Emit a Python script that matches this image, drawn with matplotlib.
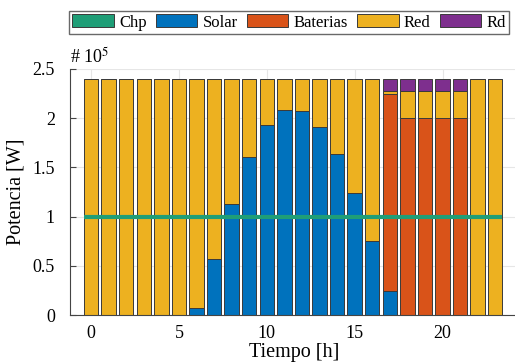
import matplotlib.pyplot as plt
from matplotlib.patches import Patch

plt.rcParams['font.family'] = ['Liberation Serif', 'DejaVu Serif']
plt.rcParams['mathtext.fontset'] = 'stix'

# Hourly power mix [W]
hours = list(range(24))
chp = [100000] * 24
solar = [0, 0, 0, 0, 0, 0, 7500, 57000, 113000, 161000, 193000, 208500,
         207500, 191500, 163500, 123500, 75500, 24500, 0, 0, 0, 0, 0, 0]
baterias = [0, 0, 0, 0, 0, 0, 0, 0, 0, 0, 0, 0,
            0, 0, 0, 0, 0, 200000, 200000, 200000, 200000, 200000, 0, 0]
red = [240000, 240000, 240000, 240000, 240000, 240000, 232500, 183000,
       127000, 79000, 47000, 31500, 32500, 48500, 76500, 116500, 164500,
       3500, 28000, 28000, 28000, 28000, 240000, 240000]
rd = [0, 0, 0, 0, 0, 0, 0, 0, 0, 0, 0, 0,
      0, 0, 0, 0, 0, 12000, 12000, 12000, 12000, 12000, 0, 0]

labels = ['Chp', 'Solar', 'Baterias', 'Red', 'Rd']
colors = ['#1f9e77', '#0072bd', '#d95319', '#edb120', '#7e2f8e']

fig = plt.figure(figsize=(5.15, 3.64), dpi=100)
ax = fig.add_axes([0.136, 0.1346, 0.87, 0.676])

w = 0.82
bottom = [0] * 24
for vals, c in zip([solar, baterias, red, rd], colors[1:]):
    ax.bar(hours, vals, width=w, bottom=bottom, color=c,
           edgecolor='#3a3a3a', linewidth=0.7, zorder=2)
    bottom = [b + v for b, v in zip(bottom, vals)]

# CHP base load drawn as a line across the bars
ax.hlines(chp[0], hours[0] - w / 2, hours[-1] + w / 2, color=colors[0],
          linewidth=3, zorder=3)

ax.set_xlim(-1.2, 24.3)
ax.set_ylim(0, 250000)
ax.set_xticks([0, 5, 10, 15, 20])
ax.set_yticks([0, 50000, 100000, 150000, 200000, 250000])
ax.set_yticklabels(['0', '0.5', '1', '1.5', '2', '2.5'])
ax.tick_params(direction='in', labelsize=13, length=4, color='#444444')
ax.tick_params(axis='y', pad=11)
ax.tick_params(axis='x', pad=7)
ax.grid(True, color='#e6e6e6', linewidth=0.8, zorder=0)
ax.set_axisbelow(True)
for s in ['top', 'right']:
    ax.spines[s].set_visible(False)
for s in ['left', 'bottom']:
    ax.spines[s].set_color('#444444')

ax.set_xlabel('Tiempo [h]', fontsize=14.5, labelpad=1)
ax.set_ylabel('Potencia [W]', fontsize=14.5, labelpad=5)
ax.text(0, 1.01, r'# 10$^{5}$', transform=ax.transAxes, fontsize=13,
        ha='left', va='bottom')

handles = [Patch(facecolor=c, edgecolor='#3a3a3a', linewidth=0.7) for c in colors]
fig.legend(handles, labels, loc='lower left', ncol=5,
           bbox_to_anchor=(69 / 515, 1 - 34 / 364), bbox_transform=fig.transFigure,
           fontsize=12, frameon=True, fancybox=False, edgecolor='#444444',
           handlelength=2.5, handleheight=0.8, handletextpad=0.3,
           columnspacing=0.55, borderpad=0.2, borderaxespad=0)

fig.savefig('out.png', dpi=100)
